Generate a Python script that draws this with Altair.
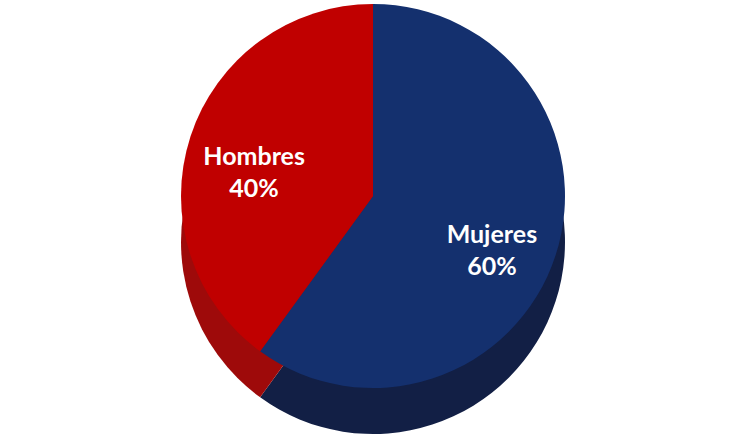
import altair as alt
import pandas as pd

categorias = ["Mujeres", "Hombres"]
valores = [60, 40]
etiquetas = ["Mujeres\n60%", "Hombres\n40%"]
orden = [1, 2]
colores_top = ["#14306E", "#C00000"]
colores_lado = ["#121F45", "#9E0A0A"]

df = pd.DataFrame({"categoria": categorias, "valor": valores, "orden": orden,
                   "etiqueta": [e.split("\n") for e in etiquetas]})

CX, CY, R, DEPTH = 373, 196, 192, 46

theta = alt.Theta("valor:Q", stack=True)

lado = alt.Chart(df).mark_arc(outerRadius=R, stroke=None).encode(
    theta=theta,
    order=alt.Order("orden:Q"),
    color=alt.Color("categoria:N", scale=alt.Scale(domain=categorias, range=colores_lado), legend=None),
    x=alt.value(CX), y=alt.value(CY + DEPTH),
)

top = alt.Chart(df).mark_arc(outerRadius=R, stroke=None).encode(
    theta=theta,
    order=alt.Order("orden:Q"),
    color=alt.Color("categoria:N", scale=alt.Scale(domain=categorias, range=colores_top), legend=None),
    x=alt.value(CX), y=alt.value(CY),
)

texto = alt.Chart(df).mark_text(radius=125, font="Lato", fontWeight="bold", fontSize=25,
                                color="white", lineHeight=32).encode(
    theta=theta,
    order=alt.Order("orden:Q"),
    text="etiqueta",
    x=alt.value(CX), y=alt.value(CY),
)

chart = alt.layer(lado, top, texto).resolve_scale(color="independent").properties(
    width=746, height=444, padding=0,
    autosize=alt.AutoSizeParams(type="fit", contains="padding"),
).configure_view(stroke=None)

chart.save("out.html", embed_options={"renderer": "svg", "actions": False})
